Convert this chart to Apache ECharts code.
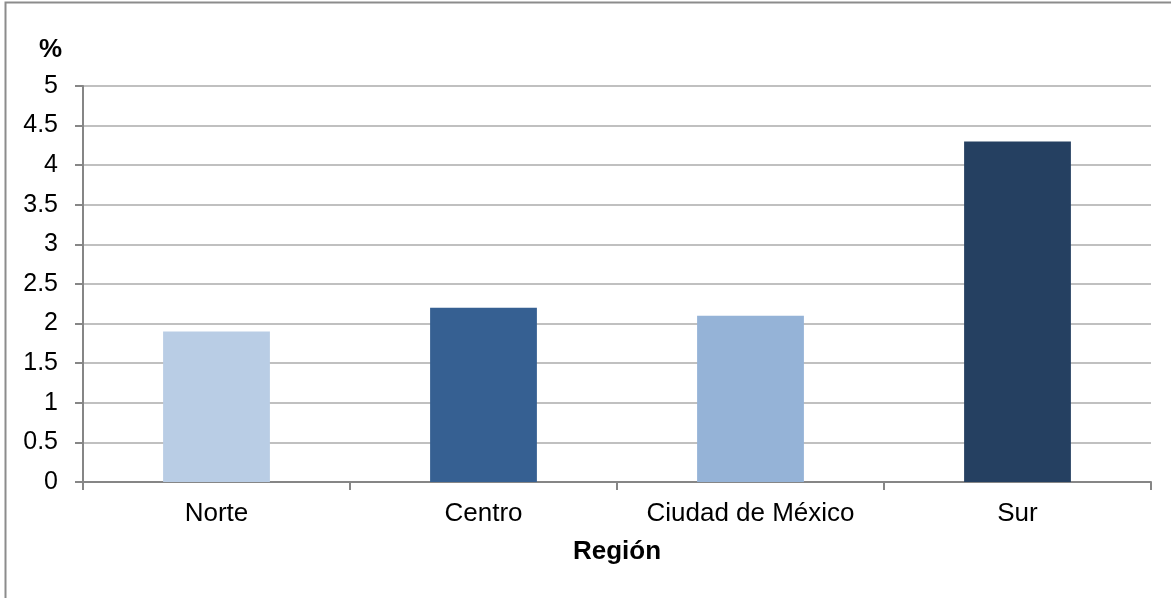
<!DOCTYPE html>
<html>
<head>
<meta charset="utf-8">
<script src="https://cdn.jsdelivr.net/npm/echarts@6/dist/echarts.min.js"></script>
<style>
  html, body { margin: 0; padding: 0; background: #fff; }
  #chart { width: 1171px; height: 598px; }
</style>
</head>
<body>
<div id="chart"></div>
<script>
// Regions along the horizontal axis
const regions = ['Norte', 'Centro', 'Ciudad de México', 'Sur'];
// Percentage for each region
const values = [1.9, 2.2, 2.1, 4.3];
// Fill colour for each bar
const barColors = ['#B9CDE5', '#366092', '#95B3D7', '#254061'];

const FONT = '"Liberation Sans", Arial, sans-serif';

const chart = echarts.init(document.getElementById('chart'), null, { renderer: 'canvas' });

chart.setOption({
  backgroundColor: '#ffffff',
  animation: false,
  graphic: [{
    type: 'rect',
    shape: { x: 5.5, y: 2.5, width: 1300, height: 800 },
    style: { fill: 'none', stroke: '#8c8c8c', lineWidth: 2 },
    silent: true
  }],
  grid: { left: 83, right: 20, top: 86, bottom: 116, containLabel: false },
  xAxis: {
    type: 'category',
    data: regions,
    name: 'Región',
    nameLocation: 'middle',
    nameGap: 57,
    nameTextStyle: { fontFamily: FONT, fontSize: 26, fontWeight: 'bold', color: '#000' },
    axisLine: { lineStyle: { color: '#868686', width: 2 } },
    axisTick: { show: true, interval: 0, length: 8, lineStyle: { color: '#868686', width: 2 } },
    axisLabel: { interval: 0, hideOverlap: false, fontFamily: FONT, fontSize: 26, color: '#000', margin: 19 },
    splitLine: { show: false }
  },
  yAxis: {
    type: 'value',
    min: 0,
    max: 5,
    interval: 0.5,
    name: '%',
    nameLocation: 'end',
    nameGap: 23,
    nameTextStyle: { fontFamily: FONT, fontSize: 26, fontWeight: 'bold', color: '#000', align: 'right', padding: [0, 21, 0, 0] },
    axisLine: { show: true, lineStyle: { color: '#868686', width: 2 } },
    axisTick: { show: true, length: 8, lineStyle: { color: '#868686', width: 2 } },
    axisLabel: { fontFamily: FONT, fontSize: 25, color: '#000', margin: 25 },
    splitLine: { show: true, lineStyle: { color: '#c0c0c0', width: 2 } }
  },
  series: [{
    type: 'bar',
    data: values.map((v, i) => ({ value: v, itemStyle: { color: barColors[i] } })),
    barWidth: '40%'
  }]
});
</script>
</body>
</html>
